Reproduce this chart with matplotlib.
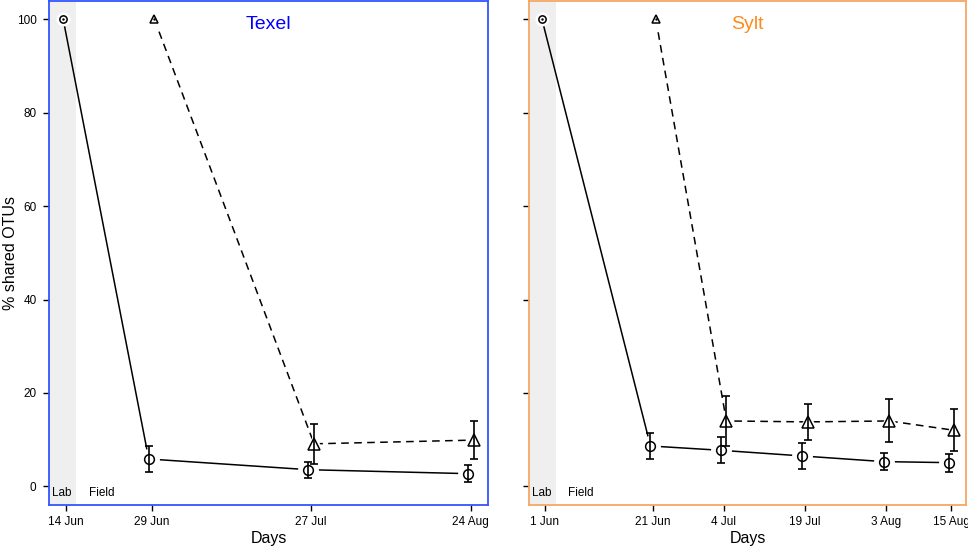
import datetime as dt
import numpy as np
import matplotlib
matplotlib.use("Agg")
import matplotlib.pyplot as plt
import matplotlib.dates as mdates

plt.rcParams['font.family'] = ['Liberation Sans', 'DejaVu Sans']

# Texel
texel_dates = ['2013-06-14', '2013-06-29', '2013-07-27', '2013-08-24']
texel_circ = [100, 5.85, 3.56, 2.71]
texel_circ_err = [0, 2.85, 1.7, 1.8]
texel_tri_dates = ['2013-06-29', '2013-07-27', '2013-08-24']
texel_tri = [100, 9.1, 9.9]
texel_tri_err = [0, 4.3, 4.0]
texel_ticks = ['14 Jun', '29 Jun', '27 Jul', '24 Aug']

# Sylt
sylt_dates = ['2013-06-01', '2013-06-21', '2013-07-04', '2013-07-19', '2013-08-03', '2013-08-15']
sylt_circ = [100, 8.64, 7.71, 6.5, 5.29, 5.07]
sylt_circ_err = [0, 2.85, 2.8, 2.85, 1.85, 1.9]
sylt_tri_dates = ['2013-06-21', '2013-07-04', '2013-07-19', '2013-08-03', '2013-08-15']
sylt_tri = [100, 14.0, 13.8, 14.0, 12.0]
sylt_tri_err = [0, 5.4, 3.8, 4.6, 4.5]
sylt_ticks = ['1 Jun', '21 Jun', '4 Jul', '19 Jul', '3 Aug', '15 Aug']


def num(ds):
    return np.array([mdates.date2num(dt.datetime.strptime(d, '%Y-%m-%d')) for d in ds])


def series(ax, x, y, err, marker, ls, ms):
    x = np.asarray(x); y = np.asarray(y); err = np.asarray(err)
    ax.plot(x, y, color='black', lw=1.1, ls=ls, dashes=(5, 3.5) if ls == '--' else (None, None), zorder=2)
    # white halo so lines stop short of the symbols
    ax.plot(x[1:], y[1:], ls='none', marker=marker, ms=ms + 7, mfc='white', mec='white', zorder=3)
    ax.plot(x[:1], y[:1], ls='none', marker=marker, ms=ms + 2, mfc='white', mec='white', zorder=3)
    ax.errorbar(x[1:], y[1:], yerr=err[1:], fmt='none', ecolor='black', elinewidth=1.2,
                capsize=3, capthick=1.2, zorder=4)
    ax.plot(x[1:], y[1:], ls='none', marker=marker, ms=ms, mfc='none', mec='black', mew=1.1, zorder=5)
    ax.plot(x[:1], y[:1], ls='none', marker=marker, ms=ms * 0.75, mfc='none', mec='black', mew=1.1, zorder=5)
    ax.plot(x[:1], y[:1], ls='none', marker='.', ms=1.5, color='black', zorder=5)


def panel(ax, dates, circ, circ_err, tri_dates, tri, tri_err, ticks, title, tcol, bcol,
          lab_w, xpad):
    xc = num(dates)
    xt = num(tri_dates)
    d0 = xc[0]
    ax.set_xlim(d0 - xpad[0], xc[-1] + xpad[1])
    ax.set_ylim(-4, 104)
    ax.axvspan(d0 - xpad[0], d0 + lab_w, color='#efefef', lw=0, zorder=0)
    series(ax, xc - 0.5, circ, circ_err, 'o', '-', 7)
    series(ax, xt + 0.5, tri, tri_err, '^', '--', 8)
    ax.set_xticks(xc)
    ax.set_xticklabels(ticks)
    ax.set_yticks([0, 20, 40, 60, 80, 100])
    ax.tick_params(direction='out', length=4.5, width=1, labelsize=8.5, color='black')
    ax.tick_params(axis='y', pad=4.5)
    ax.set_xlabel('Days', fontsize=11.5, labelpad=2)
    for s in ax.spines.values():
        s.set_color(bcol)
        s.set_linewidth(1.3)
    ax.text(0.5, 0.97, title, transform=ax.transAxes, ha='center', va='top',
            fontsize=14, color=tcol)
    ax.text(d0 - xpad[0] + 0.6, -1.5, 'Lab', fontsize=8.5, va='center', ha='left')
    ax.text(d0 + lab_w + 2.2, -1.5, 'Field', fontsize=8.5, va='center', ha='left')


fig = plt.figure(figsize=(9.68, 5.48), dpi=100)
ax1 = fig.add_axes([0.0506, 0.0785, 0.4535, 0.92])
ax2 = fig.add_axes([0.5465, 0.0785, 0.4515, 0.92])

panel(ax1, texel_dates, texel_circ, texel_circ_err, texel_tri_dates, texel_tri, texel_tri_err,
      texel_ticks, 'Texel', '#0000ff', '#3355ff', 1.75, (3.0, 3.0))
panel(ax2, sylt_dates, sylt_circ, sylt_circ_err, sylt_tri_dates, sylt_tri, sylt_tri_err,
      sylt_ticks, 'Sylt', '#ff8a1c', '#f5a765', 2.15, (2.9, 2.7))
ax1.set_ylabel('% shared OTUs', fontsize=11.5)
ax1.yaxis.set_label_coords(-0.07, 0.5)
ax2.set_yticklabels([])

fig.savefig('out.png', dpi=100)
